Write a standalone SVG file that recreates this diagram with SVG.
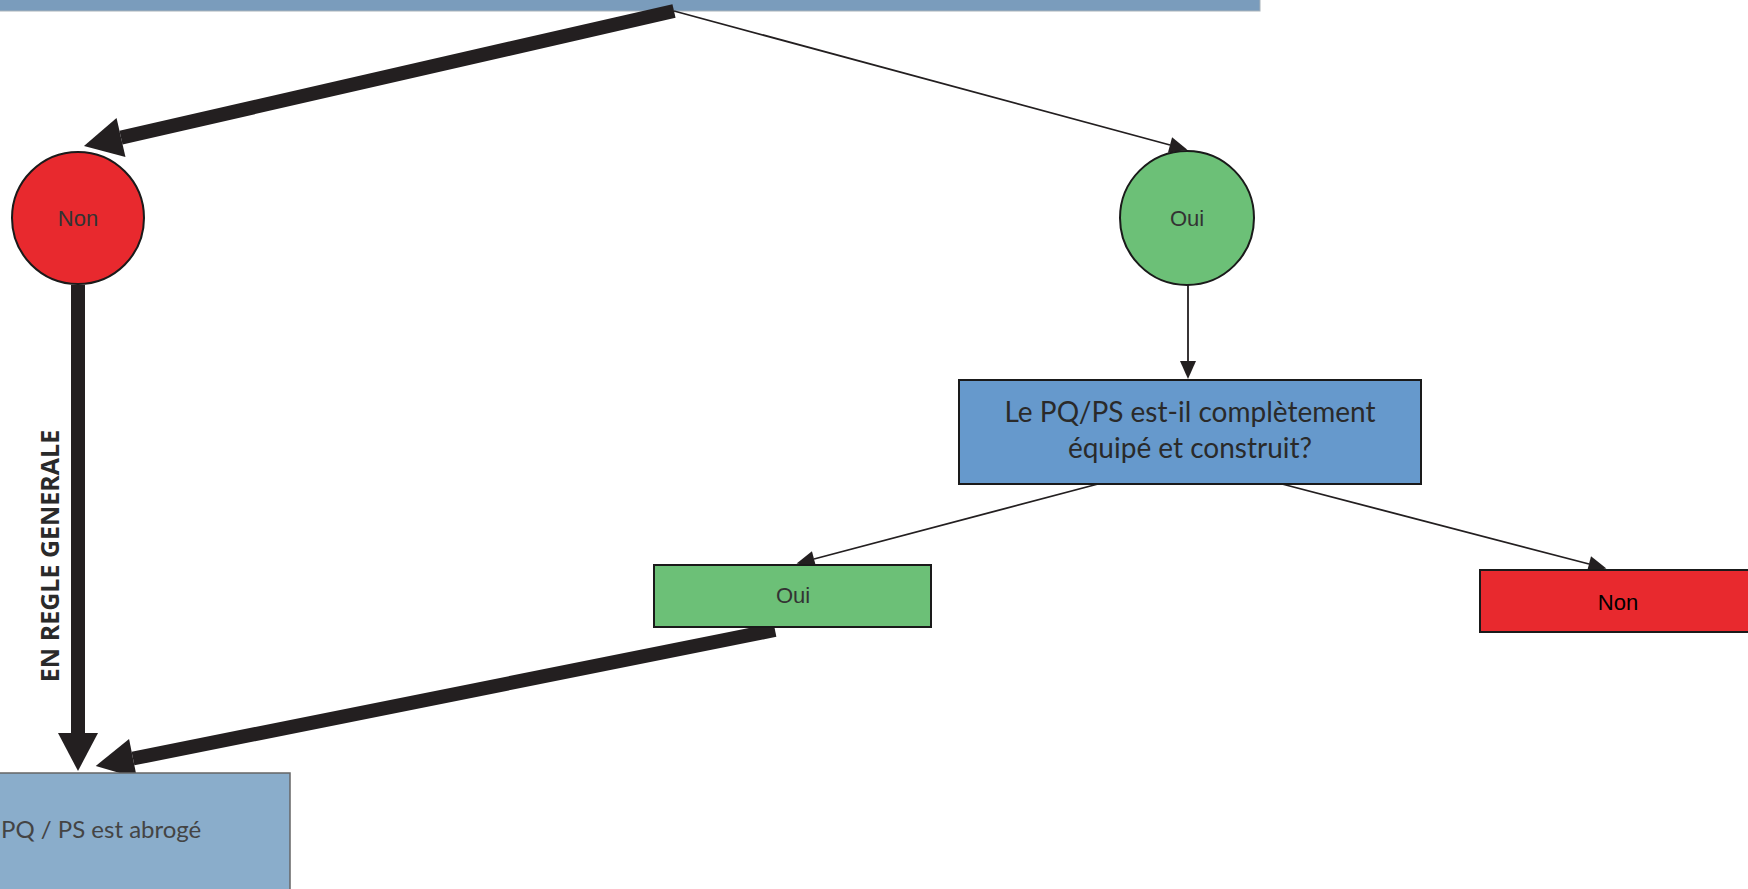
<svg xmlns="http://www.w3.org/2000/svg" width="1748" height="889" viewBox="0 0 1748 889">
<style>
.thick{stroke:#231f20;stroke-width:14;fill:none}
.thin{stroke:#231f20;stroke-width:1.8;fill:none}
.node{stroke:#1a1a1a;stroke-width:2}
.lbl{font-family:"Liberation Sans",Arial,sans-serif;font-size:22px;fill:#333;text-anchor:middle}
.cal{font-family:Lato,"Open Sans",sans-serif;font-size:28px;fill:#2a2a2a;text-anchor:middle}
</style>
<defs>
<marker id="hThick" markerUnits="userSpaceOnUse" viewBox="0 -22 44 44" markerWidth="44" markerHeight="44" refX="0" refY="0" orient="auto" overflow="visible">
<path d="M0,-20 L38,0 L0,20 z" fill="#231f20"/>
</marker>
<marker id="hThin" markerUnits="userSpaceOnUse" viewBox="0 -10 20 20" markerWidth="20" markerHeight="20" refX="0" refY="0" orient="auto" overflow="visible">
<path d="M0,-8 L18,0 L0,8 z" fill="#231f20"/>
</marker>
</defs>
<rect width="1748" height="889" fill="#fff"/>
<g id="top-bar">
<rect x="-2" y="-2" width="1262" height="13" fill="#7a9cbc" stroke="#a9b3ba" stroke-width="1"/>
</g>
<g id="connectors">
<path class="thick" d="M674 11 L121 137.6" marker-end="url(#hThick)"/>
<path class="thin" d="M674 11 L1170 145" marker-end="url(#hThin)"/>
<path class="thick" d="M78 285 L78 733" marker-end="url(#hThick)"/>
<path class="thin" d="M1188 285 L1188 361" marker-end="url(#hThin)"/>
<path class="thin" d="M1098 484 L814 559" marker-end="url(#hThin)"/>
<path class="thin" d="M1282 484 L1589 564" marker-end="url(#hThin)"/>
<path class="thick" d="M775 630 L133 758.5" marker-end="url(#hThick)"/>
<text x="0" y="0" transform="translate(59,556) rotate(-90)" style="font-family:'Open Sans','Liberation Sans',sans-serif;font-weight:bold;font-size:25px;fill:#2a2a2a;text-anchor:middle">EN REGLE GENERALE</text>
</g>
<g id="node-non-circle">
<circle class="node" cx="78" cy="218" r="66" fill="#e8292e"/>
<text class="lbl" x="78" y="226">Non</text>
</g>
<g id="node-oui-circle">
<circle class="node" cx="1187" cy="218" r="67" fill="#6cc077"/>
<text class="lbl" x="1187" y="226">Oui</text>
</g>
<g id="node-question">
<rect class="node" x="959" y="380" width="462" height="104" fill="#6699cc"/>
<text class="cal" x="1190" y="422">Le PQ/PS est-il complètement</text>
<text class="cal" x="1190" y="458">équipé et construit?</text>
</g>
<g id="node-oui-rect">
<rect class="node" x="654" y="565" width="277" height="62" fill="#6cc077"/>
<text class="lbl" x="793" y="603">Oui</text>
</g>
<g id="node-non-rect">
<rect class="node" x="1480" y="570" width="290" height="62" fill="#e8292e"/>
<text class="lbl" x="1618" y="610" style="fill:#000">Non</text>
</g>
<g id="node-abroge">
<rect x="-2" y="773" width="292" height="130" fill="#8aadcb" stroke="#666" stroke-width="1.5"/>
<text x="1" y="838" style="font-family:Lato,'Open Sans',sans-serif;font-size:24px;fill:#444">PQ / PS est abrogé</text>
</g>
</svg>
